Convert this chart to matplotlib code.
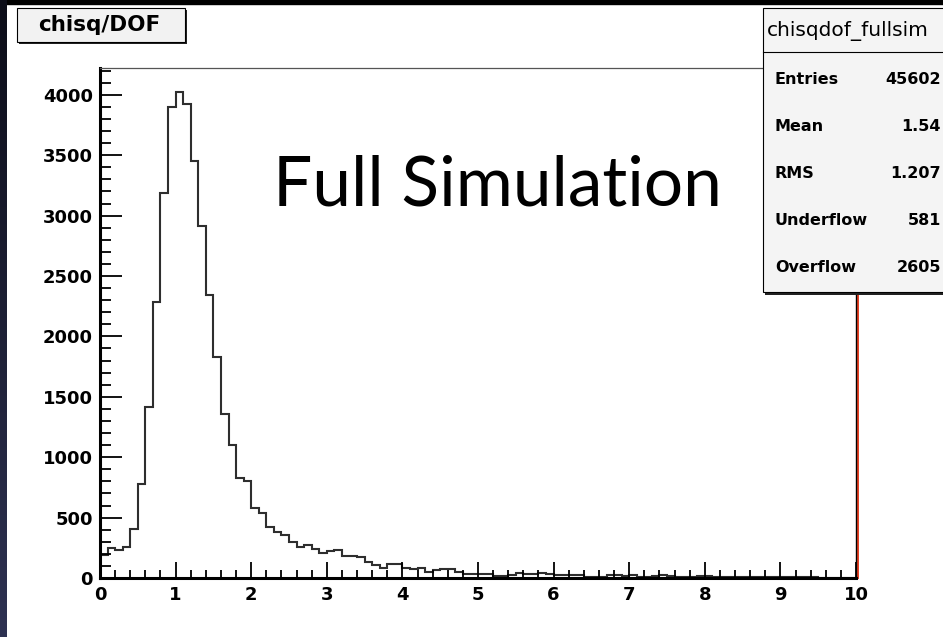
import numpy as np
import matplotlib
matplotlib.use("Agg")
import matplotlib.pyplot as plt
from matplotlib.patches import Rectangle
from matplotlib.transforms import offset_copy

# chisq/DOF histogram, 100 bins from 0 to 10
bin_edges = np.linspace(0.0, 10.0, 101)
counts = [
    190, 246, 232, 259, 405, 778, 1418, 2288, 3184, 3900,
    4020, 3920, 3450, 2915, 2343, 1832, 1355, 1100, 825, 803,
    577, 535, 420, 383, 356, 301, 259, 273, 237, 210,
    226, 230, 185, 185, 171, 135, 108, 80, 116, 116,
    86, 72, 86, 52, 66, 74, 72, 48, 35, 33,
    33, 33, 19, 19, 25, 39, 30, 30, 39, 30,
    25, 25, 25, 25, 11, 11, 11, 22, 25, 17,
    26, 12, 5, 20, 22, 20, 10, 10, 10, 20,
    20, 12, 10, 10, 5, 5, 5, 10, 10, 10,
    10, 10, 10, 5, 5, 3, 3, 3, 3, 3,
]

stat_names = ["Entries", "Mean", "RMS", "Underflow", "Overflow"]
stat_values = ["45602", "1.54", "1.207", "581", "2605"]

hist_name = "chisqdof_fullsim"
title = "chisq/DOF"
overlay_text = "Full Simulation"

W, H = 943, 637
bold = dict(family="DejaVu Sans", fontweight="bold")


def px(x, y):
    # pixel position measured from the top-left corner -> figure fraction
    return x / W, 1 - y / H


fig = plt.figure(figsize=(W / 100, H / 100), dpi=100)
fig.patch.set_facecolor("white")

# slide background showing on the top and left edges
fig.add_artist(Rectangle(px(0, 4), 1, 4 / H, transform=fig.transFigure,
                         color="black", zorder=0))
strip = fig.add_axes([0, 0, 7 / W, 1])
bg = matplotlib.colors.LinearSegmentedColormap.from_list("bg", ["#0c0d18", "#2e3252"])
strip.imshow(np.linspace(0, 1, 256)[:, None], aspect="auto", cmap=bg)
strip.set_axis_off()

ax = fig.add_axes([100 / W, 59 / H, 756 / W, 510 / H])
ax.stairs(counts, bin_edges, color="#2e2e2e", lw=1.5, baseline=0)

ax.set_xlim(0, 10)
ax.set_ylim(0, 4222)

for side in ["left", "bottom"]:
    ax.spines[side].set_linewidth(2.2)
    ax.spines[side].set_color("black")
ax.spines["top"].set_linewidth(0.9)
ax.spines["top"].set_color("#555555")
ax.spines["right"].set_linewidth(1.0)
ax.spines["right"].set_color("black")
ax.plot([10, 10], [0, 4222], color="#e63c1e", lw=1.4, clip_on=False,
        transform=offset_copy(ax.transData, fig=fig, x=2, y=0, units="dots"))

ax.set_xticks(range(0, 11))
ax.set_xticks(np.arange(0, 10.01, 0.2), minor=True)
ax.set_yticks(range(0, 4001, 500))
ax.set_yticks(range(0, 4201, 100), minor=True)
ax.tick_params(axis="y", which="major", direction="in", length=16, width=1.3, pad=5)
ax.tick_params(axis="y", which="minor", direction="in", length=8, width=1.3)
ax.tick_params(axis="x", which="major", direction="in", length=11.5, width=1.3, pad=6)
ax.tick_params(axis="x", which="minor", direction="in", length=5.8, width=1.3)
ax.tick_params(top=False, right=False, which="both")
for lab in ax.get_xticklabels() + ax.get_yticklabels():
    lab.set_fontfamily("DejaVu Sans")
    lab.set_fontweight("bold")
    lab.set_fontsize(13)

# title box (top left)
fig.add_artist(Rectangle(px(19, 44), 168 / W, 34 / H, transform=fig.transFigure,
                         facecolor="#222222", edgecolor="none", zorder=5))
fig.add_artist(Rectangle(px(17, 42), 168 / W, 34 / H, transform=fig.transFigure,
                         facecolor="#f2f2f2", edgecolor="black", lw=0.8, zorder=6))
fig.text(*px(99, 25), title, ha="center", va="center", fontsize=15.5, zorder=7, **bold)

# statistics box (top right)
fig.add_artist(Rectangle(px(765, 295), 200 / W, 284 / H, transform=fig.transFigure,
                         facecolor="#222222", edgecolor="none", zorder=5))
fig.add_artist(Rectangle(px(763, 292), 200 / W, 284 / H, transform=fig.transFigure,
                         facecolor="#f4f4f4", edgecolor="black", lw=0.8, zorder=6))
fig.add_artist(plt.Line2D([763 / W, 1], [1 - 52 / H] * 2, transform=fig.transFigure,
                          color="black", lw=0.8, zorder=7))
fig.text(*px(767, 31), hist_name, ha="left", va="center", fontsize=14.5,
         family="DejaVu Sans", zorder=8)
for i, (name, val) in enumerate(zip(stat_names, stat_values)):
    y = 80 + i * 46.8
    fig.text(*px(775, y), name, ha="left", va="center", fontsize=11.5, zorder=8, **bold)
    fig.text(*px(941, y), val, ha="right", va="center", fontsize=11.5, zorder=8, **bold)

fig.text(*px(273, 206), overlay_text, ha="left", va="baseline", fontsize=50,
         family="Lato", color="black")

fig.savefig("out.png", dpi=100)
